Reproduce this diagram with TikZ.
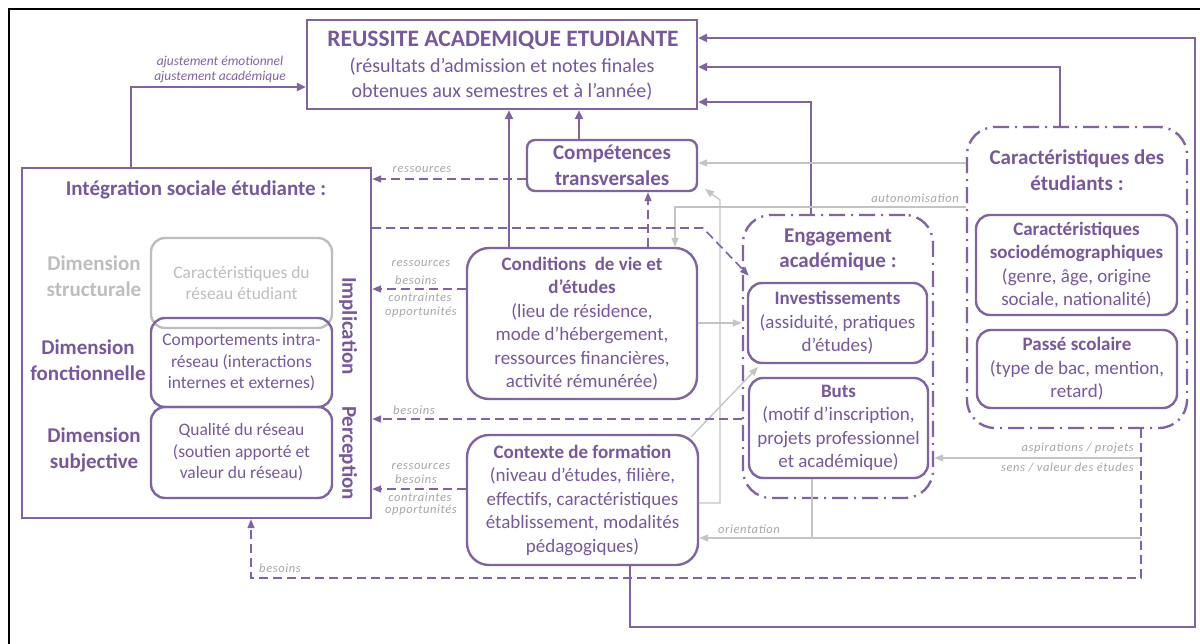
\documentclass[tikz,border=0pt]{standalone}
\usepackage{fontspec}
\setmainfont{Carlito}
\usetikzlibrary{arrows.meta}
\definecolor{pline}{RGB}{128,100,162}
\definecolor{ptext}{RGB}{118,88,155}
\definecolor{gline}{RGB}{196,196,196}
\definecolor{glabel}{RGB}{166,166,166}
\definecolor{gtext}{RGB}{190,190,190}
\newcommand\bodyfont{\fontsize{19}{23.5}\selectfont}
\newcommand\smallbody{\fontsize{17.5}{21.5}\selectfont}
\newcommand\titfont{\fontsize{21}{25.5}\selectfont\bfseries}
\newcommand\lblfont{\fontsize{12.5}{15}\selectfont\itshape\addfontfeature{LetterSpace=5}}
\tikzset{
  box/.style={draw=pline, line width=2.4pt, text=ptext, align=center, inner sep=0pt, font=\bodyfont},
  rbox/.style={box, rounded corners=14pt},
  ddbox/.style={draw=pline, line width=2.4pt, rounded corners=28pt, dash pattern=on 16pt off 6pt on 2pt off 6pt, inner sep=0pt},
  parrow/.style={draw=pline, line width=2.4pt, -{Triangle[length=9pt,width=8pt]}},
  pdash/.style={draw=pline, line width=1.6pt, dash pattern=on 9pt off 5pt, -{Triangle[length=9pt,width=7pt]}},
  garrow/.style={draw=gline, line width=1.3pt, -{Triangle[length=9pt,width=7pt]}},
  gplain/.style={draw=gline, line width=1.3pt},
  lbl/.style={font=\lblfont, text=glabel, inner sep=0pt, align=center},
  plbl/.style={font=\fontsize{13.5}{15}\selectfont\itshape, text=pline, inner sep=0pt, align=center},
  ttl/.style={font=\titfont, text=ptext, align=center, inner sep=0pt},
}
\begin{document}
\begin{tikzpicture}[x=1pt,y=-1pt]
\useasboundingbox (0,0) rectangle (1200,644);
\fill[white] (0,0) rectangle (1200,644);
\draw[black, line width=1.2pt] (9,644) -- (9,9) -- (1200,9);

% main boxes
\node[box, minimum width=390pt, minimum height=89pt] (reussite) at (502,64.5) {};
\node[ttl, font=\fontsize{23.5}{26}\selectfont\bfseries] (reussitet) at (503,40) {REUSSITE ACADEMIQUE ETUDIANTE};
\node[ttl, font=\fontsize{20}{25}\selectfont\mdseries, align=center] (reussited) at (502,79.5) {(résultats d’admission et notes finales\\obtenues aux semestres et à l’année)};
\node[box, rounded corners=8pt, minimum width=170pt, minimum height=51pt, font=\titfont] (comp) at (612,165.5)
  {Compétences\\transversales};

\node[box, minimum width=349pt, minimum height=350pt] (integ) at (196.5,343) {};
\node[ttl] (integt) at (196,190) {Intégration sociale étudiante :};
\node[rbox, draw=gtext, text=gtext, font=\smallbody, minimum width=181pt, minimum height=90pt] (carres) at (241.5,283)
  {Caractéristiques du\\réseau étudiant};
\node[rbox, font=\smallbody, minimum width=181pt, minimum height=89pt] (comport) at (241.5,362.5)
  {Comportements intra-\\réseau (interactions\\internes et externes)};
\node[rbox, font=\smallbody, minimum width=181pt, minimum height=91pt] (qualite) at (241.5,452.5)
  {Qualité du réseau\\(soutien apporté et\\valeur du réseau)};
\node[ttl, text=gtext] (dstr) at (94,276) {Dimension\\structurale};
\node[ttl] (dfon) at (88,360) {Dimension\\fonctionnelle};
\node[ttl] (dsub) at (94,450) {Dimension\\subjective};
\node[ttl, rotate=-90] (impl) at (348,326) {Implication};
\node[ttl, rotate=-90] (perc) at (348,453) {Perception};

\node[box, rounded corners=22pt, minimum width=230pt, minimum height=151pt] (cond) at (582,323.5)
  {\textbf{Conditions\ \ de vie et}\\\textbf{d’études}\\(lieu de résidence,\\mode d’hébergement,\\ressources financières,\\activité rémunérée)};
\node[box, rounded corners=22pt, minimum width=231pt, minimum height=130pt] (ctx) at (582.5,500)
  {\textbf{Contexte de formation}\\(niveau d’études, filière,\\effectifs, caractéristiques\\établissement, modalités\\pédagogiques)};

\node[ddbox, minimum width=190pt, minimum height=283pt] (eng) at (838,356.5) {};
\node[ttl] (engt) at (838,250) {Engagement\\académique :};
\node[rbox, minimum width=179pt, minimum height=80pt] (invest) at (837.5,323)
  {\textbf{Investissements}\\(assiduité, pratiques\\d’études)};
\node[rbox, minimum width=179pt, minimum height=100pt] (buts) at (838.5,428)
  {\textbf{Buts}\\(motif d’inscription,\\projets professionnel\\et académique)};

\node[ddbox, minimum width=220pt, minimum height=301pt] (cet) at (1077,277.5) {};
\node[ttl] (cett) at (1077,170) {Caractéristiques des\\étudiants :};
\node[rbox, minimum width=201pt, minimum height=100pt] (socio) at (1076.5,265)
  {\textbf{Caractéristiques}\\\textbf{sociodémographiques}\\(genre, âge, origine\\sociale, nationalité)};
\node[rbox, minimum width=200pt, minimum height=78pt] (passe) at (1077,369)
  {\textbf{Passé scolaire}\\(type de bac, mention,\\retard)};

% free-end coordinates
\coordinate (compcorner) at (705,189);
\coordinate (bendi) at (720,200);
\coordinate (invbl) at (758,367);
\coordinate (lbend) at (703,228);
\coordinate (bottomr) at (1195,627);
\coordinate (dashbl) at (251,578);
\coordinate (asp) at (1141,458);
\coordinate (ori) at (1141,538);
\coordinate (orij) at (812,538);

% solid purple arrows
\draw[parrow] (integ.north -| 131,0) |- (reussite.west |- 0,87);
\node[plbl] (ajust) at (220,69) {ajustement émotionnel\\ajustement académique};
\draw[parrow] (cond.north -| 509,0) -- (reussite.south -| 509,0);
\draw[parrow] (comp.north -| 579,0) -- (reussite.south -| 579,0);
\draw[parrow] (ctx.south -| 630,0) |- (bottomr) |- (reussite.east |- 0,38);
\draw[parrow] (cet.north -| 1060,0) |- (reussite.east |- 0,67);
\draw[parrow] (eng.north -| 811,0) |- (reussite.east |- 0,102);

% grey arrows
\draw[garrow] (cet.west |- 0,163) -- (comp.east |- 0,163);
\draw[garrow] (cet.west |- 0,207) -| (cond.north -| 675,0);
\node[lbl, anchor=east] (autol) at (959,198) {autonomisation};
\draw[garrow] (ctx.east |- 0,503) -| (bendi) -- (compcorner);
\draw[garrow] (cond.east |- 0,323) -- (eng.west |- 0,323);
\draw[garrow] ([shift={(-8,3)}]ctx.north east) -- (invbl);
\draw[garrow] (asp) -- (eng.east |- 0,458);
\node[lbl, anchor=east] (aspl) at (1134,448) {aspirations / projets};
\node[lbl, anchor=east] (sensl) at (1134,467) {sens / valeur des études};
\draw[garrow] (ori) -- (ctx.east |- 0,538);
\draw[gplain] (buts.south -| 812,0) -- (orij);
\node[lbl] (oril) at (749,529) {orientation};

% dashed purple arrows
\draw[pdash] (integ.east |- 0,228) -- (lbend) -- ([shift={(2,-6)}]invest.north west);
\draw[pdash] (comp.west |- 0,179) -- (integ.east |- 0,179);
\node[lbl] (resl1) at (422,170) {ressources};
\draw[pdash] (cond.west |- 0,289) -- (integ.east |- 0,289);
\node[lbl] (l1a) at (421,264) {ressources};
\node[lbl] (l1b) at (416,280) {besoins};
\node[lbl] (l1c) at (420,297) {contraintes};
\node[lbl] (l1d) at (421,312) {opportunités};
\draw[pdash] (cond.north -| 648,0) -- (comp.south -| 648,0);
\draw[pdash] (eng.west |- 0,419) -- (integ.east |- 0,419);
\node[lbl] (l2) at (414,410) {besoins};
\draw[pdash] (ctx.west |- 0,489) -- (integ.east |- 0,489);
\node[lbl] (l3a) at (421,467) {ressources};
\node[lbl] (l3b) at (416,479) {besoins};
\node[lbl] (l3c) at (420,497) {contraintes};
\node[lbl] (l3d) at (421,510) {opportunités};
\draw[pdash] (cet.south -| 1141,0) |- (dashbl) -- (integ.south -| 251,0);
\node[lbl] (l4) at (280,568) {besoins};
\end{tikzpicture}
\end{document}
